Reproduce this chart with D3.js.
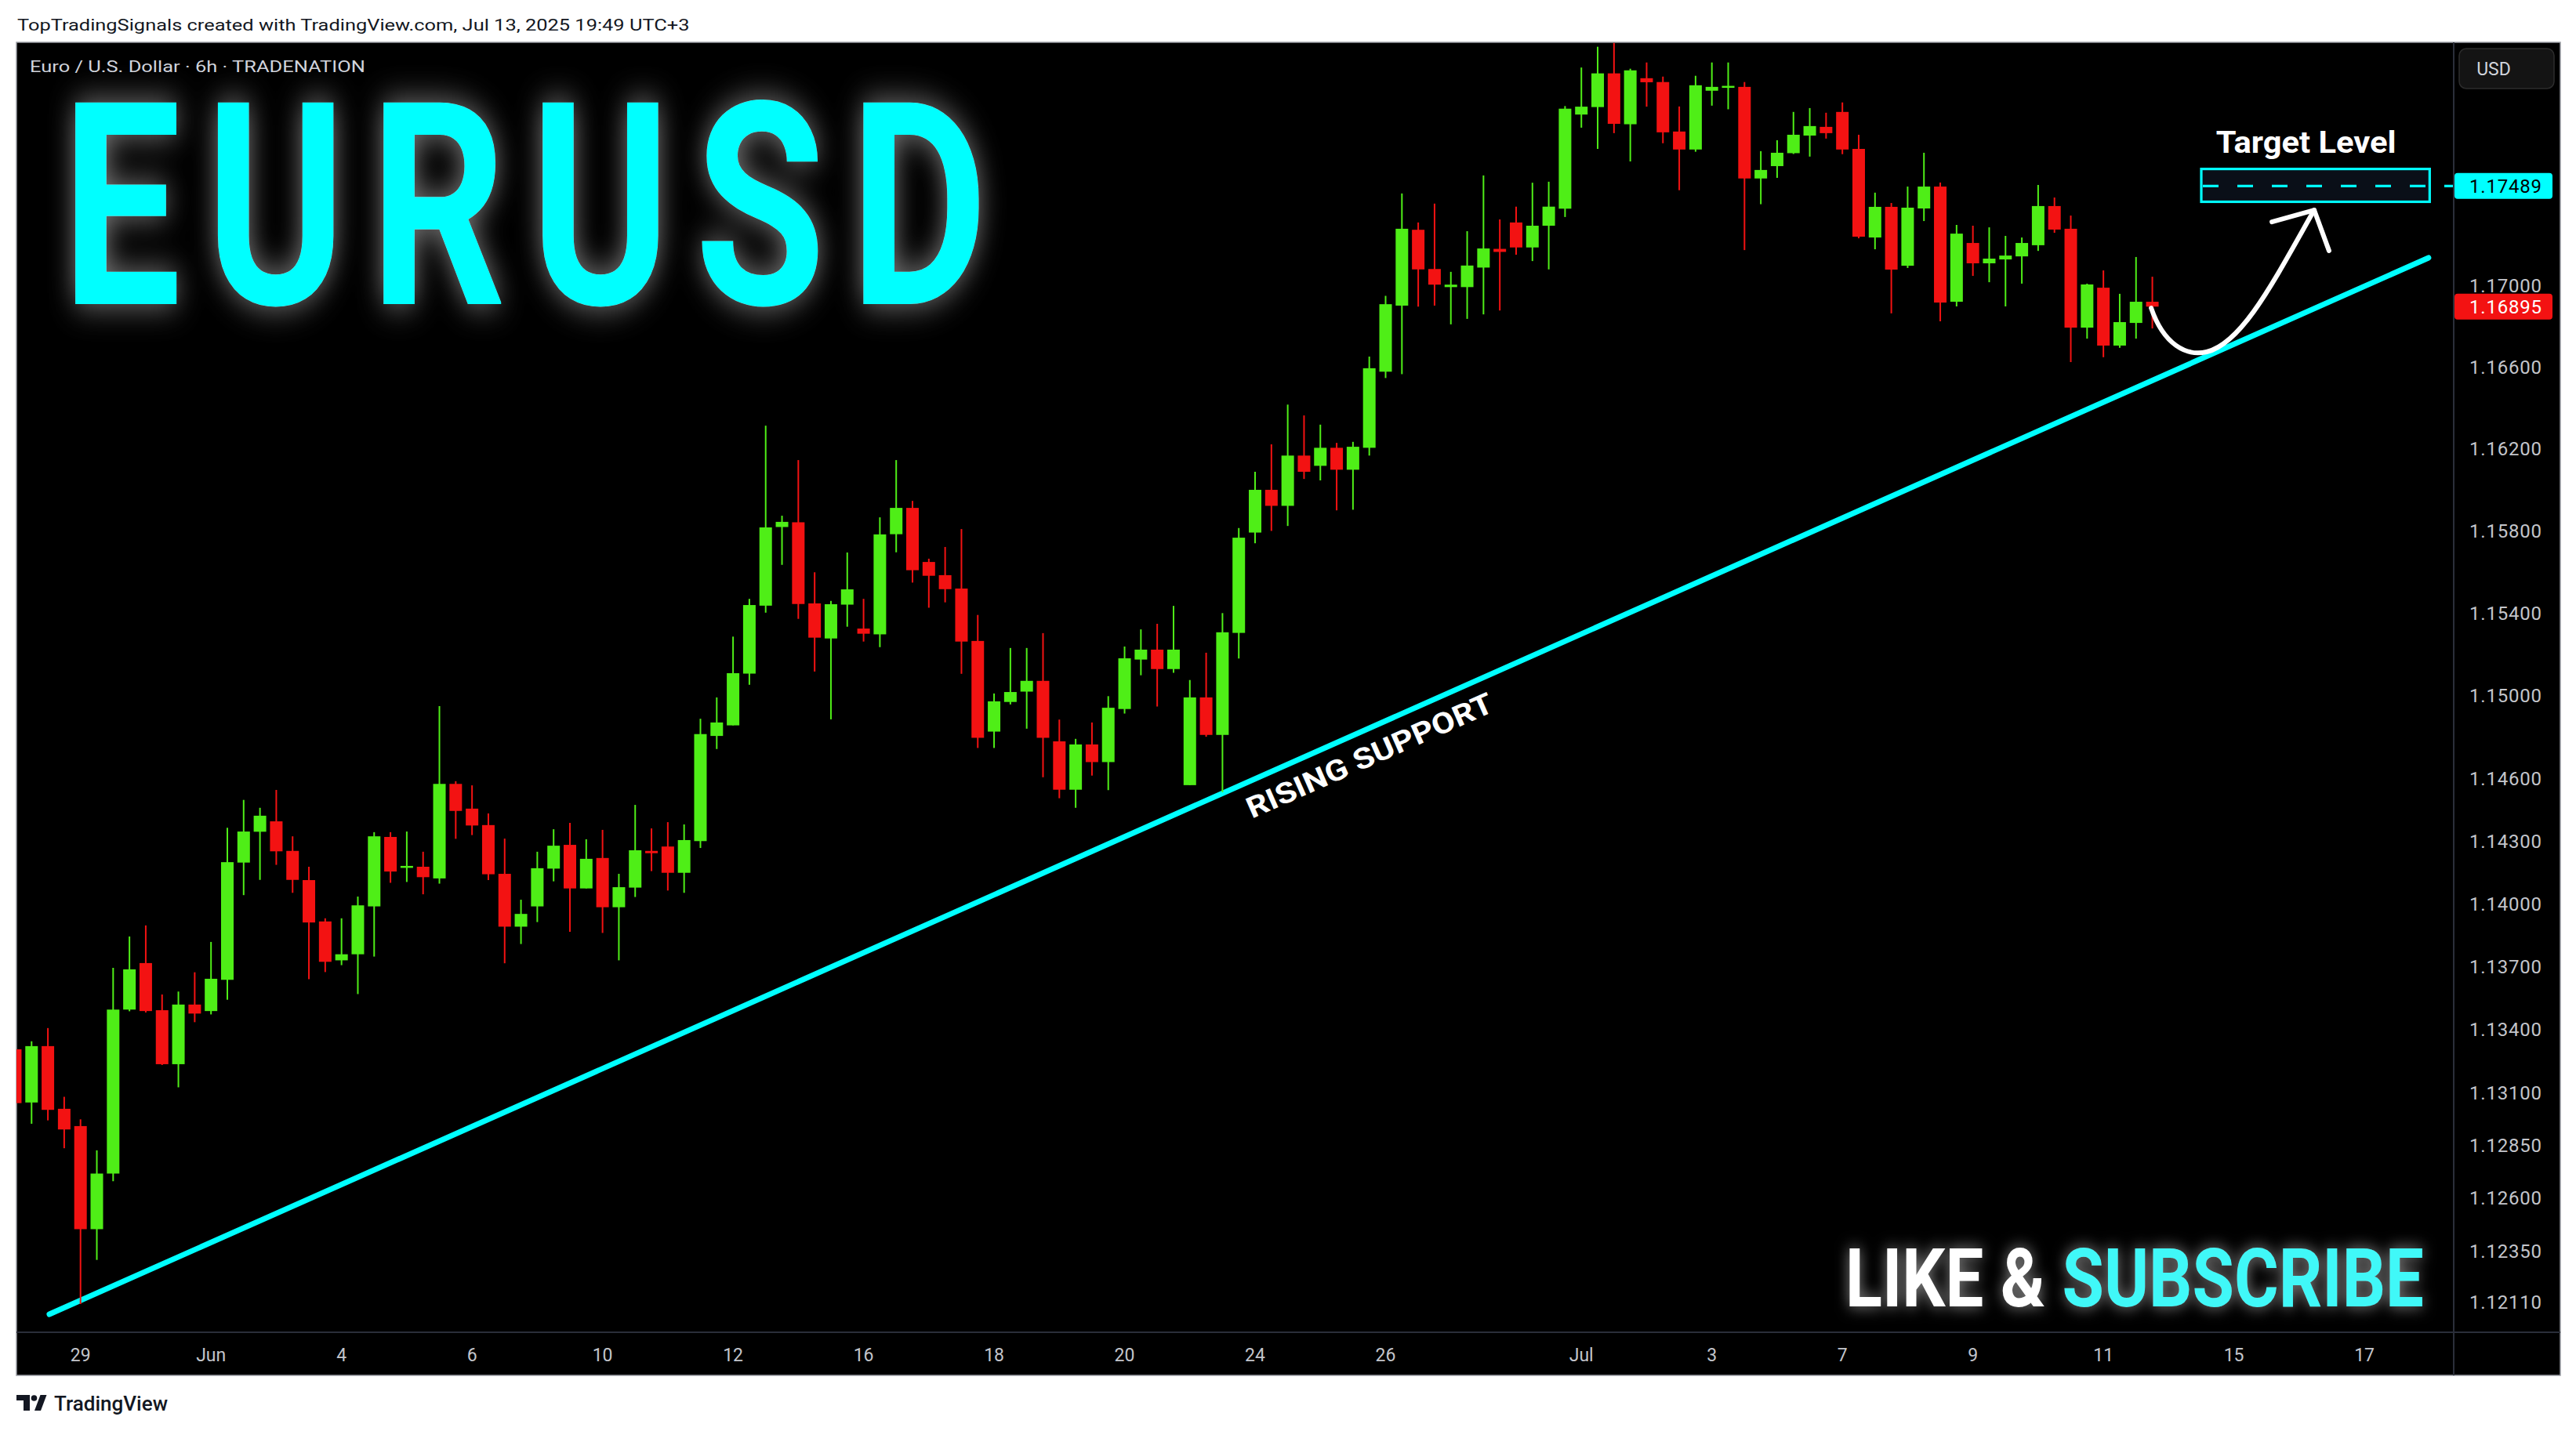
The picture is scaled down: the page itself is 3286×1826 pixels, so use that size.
<!DOCTYPE html>
<html><head><meta charset="utf-8">
<script src="https://cdn.jsdelivr.net/npm/d3@7"></script>
<style>
html,body{margin:0;padding:0;background:#ffffff;}
svg{display:block}
</style></head><body>
<svg id="chart" width="3286" height="1826"></svg>
<script>
// ---------------- DATA ----------------
const opens = [1.13305,1.13052,1.13320,1.13022,1.12940,1.12452,1.12715,1.13494,1.13716,1.13491,
1.13234,1.13518,1.13487,1.13636,1.14197,1.14345,1.14395,1.14253,1.14113,1.13915,
1.13729,1.13758,1.13987,1.14320,1.14176,1.14177,1.14121,1.14575,1.14456,1.14377,
1.14143,1.13890,1.13987,1.14168,1.14282,1.14073,1.14219,1.13983,1.14077,1.14253,
1.14274,1.14148,1.14300,1.14806,1.14857,1.15107,1.15436,1.15818,1.15841,1.15447,
1.15277,1.15441,1.15325,1.15297,1.15783,1.15911,1.15648,1.15584,1.15519,1.15265,
1.14827,1.14970,1.15020,1.15072,1.14780,1.14547,1.14765,1.14680,1.14936,1.15175,
1.15223,1.15129,1.14569,1.14992,1.14811,1.15304,1.15791,1.15999,1.15921,1.16166,
1.16116,1.16204,1.16097,1.16204,1.16576,1.16900,1.17273,1.17080,1.16991,1.16991,
1.17087,1.17179,1.17309,1.17186,1.17293,1.17377,1.17842,1.17879,1.18046,1.17794,
1.18022,1.18003,1.17758,1.17669,1.17960,1.17975,1.17979,1.17526,1.17587,1.17651,
1.17738,1.17781,1.17855,1.17672,1.17235,1.17386,1.17096,1.17378,1.17486,1.16919,
1.17208,1.17108,1.17127,1.17142,1.17197,1.17390,1.17278,1.16792,1.16988,1.16704,
1.16815,1.16919];
const highs = [1.13453,1.13343,1.13406,1.13079,1.12972,1.12825,1.13693,1.13843,1.13896,1.13566,
1.13580,1.13672,1.13817,1.14364,1.14498,1.14460,1.14546,1.14323,1.14177,1.13930,
1.13930,1.14034,1.14343,1.14343,1.14346,1.14249,1.14950,1.14588,1.14568,1.14433,
1.14312,1.14019,1.14249,1.14357,1.14388,1.14309,1.14354,1.14143,1.14474,1.14361,
1.14391,1.14380,1.14889,1.14992,1.15286,1.15469,1.16312,1.15873,1.16144,1.15598,
1.15459,1.15694,1.15469,1.15865,1.16144,1.15945,1.15664,1.15721,1.15808,1.15391,
1.15011,1.15231,1.15231,1.15303,1.14885,1.14792,1.14871,1.14998,1.15238,1.15321,
1.15348,1.15435,1.15076,1.15208,1.15400,1.15813,1.16087,1.16221,1.16415,1.16362,
1.16317,1.16228,1.16233,1.16650,1.16948,1.17452,1.17309,1.17402,1.17066,1.17266,
1.17541,1.17324,1.17387,1.17505,1.17510,1.17884,1.18075,1.18178,1.18197,1.18069,
1.18100,1.18030,1.17882,1.18034,1.18100,1.18100,1.18003,1.17661,1.17715,1.17855,
1.17874,1.17851,1.17902,1.17742,1.17456,1.17405,1.17486,1.17653,1.17506,1.17297,
1.17293,1.17285,1.17243,1.17235,1.17494,1.17432,1.17343,1.17008,1.17073,1.16958,
1.17139,1.17042];
const lows = [1.13008,1.12951,1.12967,1.12835,1.12099,1.12307,1.12679,1.13486,1.13480,1.13230,
1.13124,1.13434,1.13471,1.13541,1.14041,1.14114,1.14186,1.14052,1.13639,1.13673,
1.13706,1.13568,1.13747,1.14100,1.14104,1.14045,1.14096,1.14311,1.14329,1.14113,
1.13715,1.13807,1.13912,1.14107,1.13865,1.14073,1.13860,1.13729,1.14032,1.14156,
1.14063,1.14052,1.14267,1.14743,1.14857,1.15053,1.15402,1.15634,1.15372,1.15117,
1.14886,1.15334,1.15262,1.15235,1.15695,1.15548,1.15426,1.15452,1.15106,1.14748,
1.14748,1.14958,1.14841,1.14607,1.14506,1.14460,1.14615,1.14545,1.14914,1.15099,
1.14948,1.15111,1.14569,1.14802,1.14535,1.15180,1.15739,1.15799,1.15823,1.16052,
1.16045,1.15899,1.15902,1.16166,1.16545,1.16564,1.16895,1.16900,1.16808,1.16835,
1.16857,1.16876,1.17150,1.17119,1.17078,1.17336,1.17777,1.17672,1.17750,1.17610,
1.17881,1.17700,1.17468,1.17658,1.17886,1.17868,1.17173,1.17399,1.17529,1.17647,
1.17634,1.17723,1.17646,1.17231,1.17177,1.16862,1.17085,1.17316,1.16823,1.16896,
1.17046,1.17015,1.16896,1.17008,1.17169,1.17258,1.16623,1.16738,1.16647,1.16693,
1.16738,1.16788];
const closes = [1.13049,1.13320,1.13017,1.12924,1.12452,1.12715,1.13494,1.13686,1.13487,1.13234,
1.13518,1.13475,1.13641,1.14199,1.14346,1.14422,1.14251,1.14114,1.13910,1.13722,
1.13758,1.13992,1.14323,1.14154,1.14181,1.14127,1.14575,1.14445,1.14375,1.14141,
1.13890,1.13951,1.14170,1.14278,1.14073,1.14215,1.13983,1.14079,1.14256,1.14242,
1.14148,1.14305,1.14815,1.14871,1.15109,1.15439,1.15816,1.15843,1.15444,1.15281,
1.15443,1.15515,1.15300,1.15782,1.15911,1.15608,1.15581,1.15516,1.15262,1.14797,
1.14973,1.15018,1.15072,1.14797,1.14547,1.14765,1.14680,1.14942,1.15181,1.15223,
1.15129,1.15223,1.14992,1.14811,1.15307,1.15766,1.15999,1.15921,1.16166,1.16087,
1.16204,1.16097,1.16209,1.16593,1.16907,1.17278,1.17078,1.17003,1.17003,1.17097,
1.17181,1.17164,1.17186,1.17293,1.17387,1.17871,1.17881,1.18046,1.17796,1.18061,
1.18002,1.17754,1.17669,1.17987,1.17979,1.17984,1.17526,1.17568,1.17653,1.17742,
1.17785,1.17750,1.17669,1.17239,1.17386,1.17077,1.17382,1.17486,1.16915,1.17254,
1.17108,1.17131,1.17146,1.17208,1.17390,1.17274,1.16792,1.17004,1.16704,1.16819,
1.16919,1.16895];

const firstDay = "2025-05-28";       // first 6h bar: May 28, 00:00 (UTC+3)
const lastAxisDay = "2025-07-18";
const barsPerDay = 4;
const tickDays   = ["2025-05-29","2025-06-02","2025-06-04","2025-06-06","2025-06-10","2025-06-12",
                    "2025-06-16","2025-06-18","2025-06-20","2025-06-24","2025-06-26","2025-07-01",
                    "2025-07-03","2025-07-07","2025-07-09","2025-07-11","2025-07-15","2025-07-17"];
const tickLabels = ["29","Jun","4","6","10","12","16","18","20","24","26","Jul","3","7","9","11","15","17"];
const priceTicks = [1.17000,1.16600,1.16200,1.15800,1.15400,1.15000,1.14600,1.14300,1.14000,
                    1.13700,1.13400,1.13100,1.12850,1.12600,1.12350,1.12110];
const lastPrice = 1.16895;
const targetLevel = 1.17489;
const targetBand = [1.17411, 1.17573];
const targetSpan = [134, 148];              // bar index span of the target box
const trendStart = [2.09, 1.12051];         // [bar index, price]
const trendEnd   = [147.93, 1.17135];
const supportLabelAt = 82.4;
const arrowCurve = [[130.93,1.16888],[131.7,1.16708],[133.1,1.16650],[134.33,1.16673],
                    [136.5,1.16715],[138.42,1.17015],[140.92,1.17370]];
const arrowHead = [[138.33,1.17312],[140.92,1.17370],[141.83,1.17170]];

// ---------------- LAYOUT ----------------
const svg = d3.select("#chart");
const F = {left:21, top:54, right:3266, bottom:1755};
const P = {left:21, top:54, right:3130, bottom:1700};
const UP = "#4fee17", DOWN = "#f31212", CYAN = "#00ffff";
const fontUI = "Roboto, 'Liberation Sans', Arial, sans-serif";

const parse = d3.utcParse("%Y-%m-%d");
const days = d3.utcDay.range(parse(firstDay), parse(lastAxisDay)).filter(d => d.getUTCDay() > 0 && d.getUTCDay() < 6);
const dayIndex = new Map(days.map((d,k) => [+d, k]));
const barOfDay = s => dayIndex.get(+parse(s)) * barsPerDay;

const x = d3.scaleLinear().domain([0, 144]).range([19.46, 19.46 + 144*20.81]);
const y = d3.scaleLog().domain([1.1211, targetLevel]).range([1661, 237.3]);

const defs = svg.append("defs");
defs.append("clipPath").attr("id","pane").append("rect")
  .attr("x",P.left).attr("y",P.top).attr("width",P.right-P.left).attr("height",P.bottom-P.top);

function glow(id, sd, op){
  const f = defs.append("filter").attr("id",id).attr("x","-30%").attr("y","-40%").attr("width","160%").attr("height","180%");
  f.append("feGaussianBlur").attr("in","SourceAlpha").attr("stdDeviation",sd).attr("result","b");
  f.append("feFlood").attr("flood-color","#ffffff").attr("flood-opacity",op);
  f.append("feComposite").attr("in2","b").attr("operator","in").attr("result","g");
  const m = f.append("feMerge");
  m.append("feMergeNode").attr("in","g");
  m.append("feMergeNode").attr("in","SourceGraphic");
}
glow("glowBig", 22, 0.5);
glow("glowSmall", 10, 0.55);

// place a text so that its drawn width equals w, by horizontal scaling
function fitText(g, tx, ty, w, anchor){
  const t = g.select("text");
  const bw = t.node().getComputedTextLength();
  const s = w / bw;
  const dx = anchor === "middle" ? -w/2 : 0;
  g.attr("transform", `translate(${tx+dx},${ty}) scale(${s},1)`);
  return g;
}

// header
{
  const g = svg.append("g");
  g.append("text").attr("font-family",fontUI).attr("font-size",21).attr("fill","#131722")
    .text("TopTradingSignals created with TradingView.com, Jul 13, 2025 19:49 UTC+3");
  fitText(g, 22, 39, 858);
}

// frame
svg.append("rect").attr("x",F.left).attr("y",F.top).attr("width",F.right-F.left).attr("height",F.bottom-F.top)
  .attr("fill","#000").attr("stroke","#9a9da4").attr("stroke-width",1.5);

const pane = svg.append("g").attr("clip-path","url(#pane)");

// big title
{
  const g = pane.append("g").attr("filter","url(#glowBig)");
  g.append("text").attr("font-family",fontUI).attr("font-weight",700)
    .attr("font-size",362).attr("letter-spacing",42).attr("fill",CYAN).text("EURUSD");
  const t = g.select("text").node();
  const bw = t.getComputedTextLength() - 42;
  g.attr("transform", `translate(79,388) scale(${1181/bw},1)`);
}
{
  const g = pane.append("g");
  g.append("text").attr("font-family",fontUI).attr("font-size",21).attr("fill","#d1d4dc")
    .text("Euro / U.S. Dollar · 6h · TRADENATION");
  fitText(g, 38, 92, 428);
}

// trend line
pane.append("line")
  .attr("x1",x(trendStart[0])).attr("y1",y(trendStart[1]))
  .attr("x2",x(trendEnd[0])).attr("y2",y(trendEnd[1]))
  .attr("stroke",CYAN).attr("stroke-width",7).attr("stroke-linecap","round");

// candles
const bars = d3.range(opens.length).map(i => ({i, o:opens[i], h:highs[i], l:lows[i], c:closes[i]}));
const cg = pane.append("g");
cg.selectAll("line.w").data(bars).join("line").attr("class","w")
  .attr("x1",d=>x(d.i)).attr("x2",d=>x(d.i)).attr("y1",d=>y(d.h)).attr("y2",d=>y(d.l))
  .attr("stroke",d=>d.c>=d.o?UP:DOWN).attr("stroke-width",2);
cg.selectAll("rect.b").data(bars).join("rect").attr("class","b")
  .attr("x",d=>x(d.i)-8).attr("width",16)
  .attr("y",d=>Math.min(y(d.o),y(d.c)))
  .attr("height",d=>Math.max(2.5, Math.abs(y(d.o)-y(d.c))))
  .attr("fill",d=>d.c>=d.o?UP:DOWN);

// rising support label
{
  const x1=x(trendStart[0]), y1=y(trendStart[1]), x2=x(trendEnd[0]), y2=y(trendEnd[1]);
  const px = x(supportLabelAt), py = y1 + (y2-y1)*(px-x1)/(x2-x1);
  const ang = Math.atan2(y2-y1, x2-x1)*180/Math.PI;
  const g = pane.append("g").attr("transform",`translate(${px},${py}) rotate(${ang})`);
  const g2 = g.append("g");
  g2.append("text").attr("font-family",fontUI).attr("font-weight",700)
    .attr("font-size",37).attr("fill","#ffffff").text("RISING SUPPORT");
  fitText(g2, 0, 45, 340, "middle");
}

// target box
const ty = y(targetLevel);
pane.append("rect").attr("x",x(targetSpan[0])).attr("y",y(targetBand[1]))
  .attr("width",x(targetSpan[1])-x(targetSpan[0])).attr("height",y(targetBand[0])-y(targetBand[1]))
  .attr("fill","#0a0f18").attr("stroke",CYAN).attr("stroke-width",3.2);
pane.append("line").attr("x1",x(targetSpan[0])+2).attr("x2",P.right).attr("y1",ty).attr("y2",ty)
  .attr("stroke",CYAN).attr("stroke-width",3.2).attr("stroke-dasharray","20,24");
{
  const g = pane.append("g");
  g.append("text").attr("font-family",fontUI).attr("font-weight",700).attr("font-size",39)
    .attr("fill","#ffffff").text("Target Level");
  fitText(g, (x(targetSpan[0])+x(targetSpan[1]))/2 - 12, ty-42, 230, "middle");
}

// arrow
{
  const p = arrowCurve.map(([i,v]) => [x(i), y(v)]);
  const path = d3.path();
  path.moveTo(...p[0]);
  path.bezierCurveTo(...p[1], ...p[2], ...p[3]);
  path.bezierCurveTo(...p[4], ...p[5], ...p[6]);
  pane.append("path").attr("d",path.toString()).attr("fill","none").attr("stroke","#fff")
    .attr("stroke-width",6).attr("stroke-linecap","round");
  pane.append("path").attr("d",d3.line()(arrowHead.map(([i,v]) => [x(i), y(v)])))
    .attr("fill","none").attr("stroke","#fff").attr("stroke-width",6)
    .attr("stroke-linecap","round").attr("stroke-linejoin","round");
}

// like & subscribe
{
  const g = pane.append("g").attr("filter","url(#glowSmall)");
  const t = g.append("text").attr("font-family",fontUI).attr("font-weight",700).attr("font-size",103);
  t.append("tspan").attr("fill","#ffffff").text("LIKE & ");
  t.append("tspan").attr("fill","#3ff8f8").text("SUBSCRIBE");
  fitText(g, 2354, 1667, 738);
}

// separators
svg.append("line").attr("x1",P.right).attr("x2",P.right).attr("y1",F.top).attr("y2",F.bottom)
  .attr("stroke","#2a2e39").attr("stroke-width",2);
svg.append("line").attr("x1",F.left).attr("x2",F.right).attr("y1",P.bottom).attr("y2",P.bottom)
  .attr("stroke","#2a2e39").attr("stroke-width",2);

// price axis
const pa = svg.append("g");
pa.selectAll("text.pt").data(priceTicks).join("text").attr("class","pt")
  .attr("x",3150).attr("y",d=>y(d)).attr("dy","0.36em").attr("font-family",fontUI).attr("font-size",24)
  .attr("letter-spacing",0.8).attr("fill","#c3c5cb").text(d=>d.toFixed(5));

function tag(v, bg, fg){
  pa.append("rect").attr("x",P.right+1).attr("y",y(v)-16.5).attr("width",125).attr("height",33)
    .attr("rx",4).attr("fill",bg);
  pa.append("text").attr("x",3150).attr("y",y(v)).attr("dy","0.36em").attr("font-family",fontUI)
    .attr("font-size",24).attr("letter-spacing",0.8).attr("fill",fg).text(v.toFixed(5));
}
tag(targetLevel, CYAN, "#000000");
tag(lastPrice, DOWN, "#ffffff");

// USD button
pa.append("rect").attr("x",3137).attr("y",62).attr("width",121).attr("height",51).attr("rx",9)
  .attr("fill","#141414").attr("stroke","#2c2c2c").attr("stroke-width",1.5);
pa.append("text").attr("x",3181).attr("y",88).attr("dy","0.36em").attr("text-anchor","middle")
  .attr("font-family",fontUI).attr("font-size",23).attr("fill","#d1d4dc").text("USD");

// time axis
const ta = svg.append("g");
ta.selectAll("text.tt").data(tickDays).join("text").attr("class","tt")
  .attr("x",d=>x(barOfDay(d))).attr("y",1729).attr("dy","0.36em").attr("text-anchor","middle")
  .attr("font-family",fontUI).attr("font-size",23).attr("fill","#c3c5cb")
  .text((d,k)=>tickLabels[k]);

// TradingView footer logo
const lg = svg.append("g").attr("fill","#131722");
lg.append("path").attr("d","M21,1780 H38 V1800 H30 V1787 H21 Z");
lg.append("circle").attr("cx",43.5).attr("cy",1784).attr("r",3.8);
lg.append("path").attr("d","M44,1800 L51.5,1780 H59.5 L52,1800 Z");
{
  const g = lg.append("g");
  g.append("text").attr("font-family",fontUI).attr("font-weight",500).attr("font-size",25).text("TradingView");
  fitText(g, 69, 1800, 145);
}
</script>
</body></html>
